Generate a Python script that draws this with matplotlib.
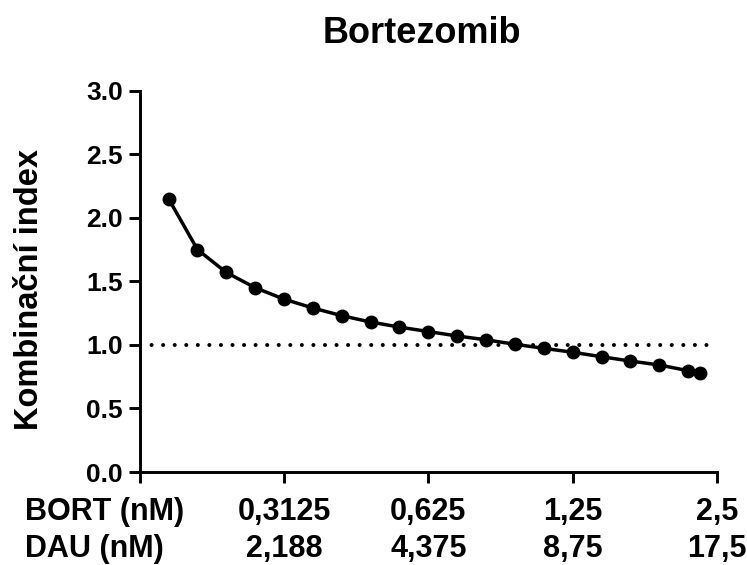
import matplotlib
matplotlib.use("Agg")
import matplotlib.pyplot as plt
from matplotlib.ticker import NullLocator, FixedLocator

plt.rcParams['font.family'] = ['Liberation Sans', 'DejaVu Sans']
plt.rcParams['font.weight'] = 'bold'

# BORT concentration (nM) of each combination, and its combination index
bort = [0.1795, 0.2062, 0.2368, 0.2720, 0.3125, 0.3590, 0.4123, 0.4737,
        0.5441, 0.6250, 0.7180, 0.8247, 0.9473, 1.0882, 1.2500, 1.4359,
        1.6494, 1.8946, 2.1764, 2.3000]
ci = [2.15, 1.75, 1.57, 1.45, 1.36, 1.29, 1.23, 1.18, 1.14, 1.105,
      1.07, 1.04, 1.005, 0.973, 0.942, 0.907, 0.873, 0.842, 0.797, 0.777]

tick_bort = [0.3125, 0.625, 1.25, 2.5]
tick_bort_lbl = ["0,3125", "0,625", "1,25", "2,5"]
tick_dau_lbl = ["2,188", "4,375", "8,75", "17,5"]

W, H = 747, 565
fig = plt.figure(figsize=(W / 100, H / 100), dpi=100)
ax = fig.add_axes([139.7 / W, 1 - 472 / H, (717 - 139.7) / W, (472 - 90.7) / H])

ax.axhline(1.0, color="black", lw=2.9, linestyle=(0, (0.01, 2.86)),
           dash_capstyle="round", zorder=1)
ax.plot(bort, ci, "-o", color="black", lw=2.5, ms=9, zorder=3)

ax.set_xscale("log", base=2)
ax.set_xlim(0.15625, 2.5)
ax.set_ylim(0, 3)
ax.xaxis.set_minor_locator(NullLocator())
ax.xaxis.set_major_locator(FixedLocator([0.15625] + tick_bort))
ax.set_xticklabels([""] + [f"{b}\n{d}" for b, d in zip(tick_bort_lbl, tick_dau_lbl)],
                   fontsize=22, fontweight="bold", linespacing=1.3)
ax.set_yticks([0, 0.5, 1.0, 1.5, 2.0, 2.5, 3.0])
ax.set_yticklabels([f"{v:.1f}" for v in ax.get_yticks()], fontsize=19,
                   fontweight="bold")

for s in ["top", "right"]:
    ax.spines[s].set_visible(False)
for s in ["left", "bottom"]:
    ax.spines[s].set_linewidth(2.1)
ax.tick_params(axis="both", length=8, width=2.1, direction="out")
ax.tick_params(axis="x", pad=10)
ax.tick_params(axis="y", pad=4)

pad_px = 10 * 100 / 72
fig.text(25 / W, 1 - (472 + 11 + pad_px) / H, "BORT (nM)\nDAU (nM)",
         ha="left", va="top", fontsize=22, fontweight="bold", linespacing=1.3)

fig.text(30 / W, 1 - 290 / H, "Kombinační index", rotation=90,
         ha="center", va="center", fontsize=23.5, fontweight="bold")
fig.text(421.5 / W, 1 - 43 / H, "Bortezomib", ha="center", va="baseline",
         fontsize=26, fontweight="bold")

fig.savefig("out.png", dpi=100)
